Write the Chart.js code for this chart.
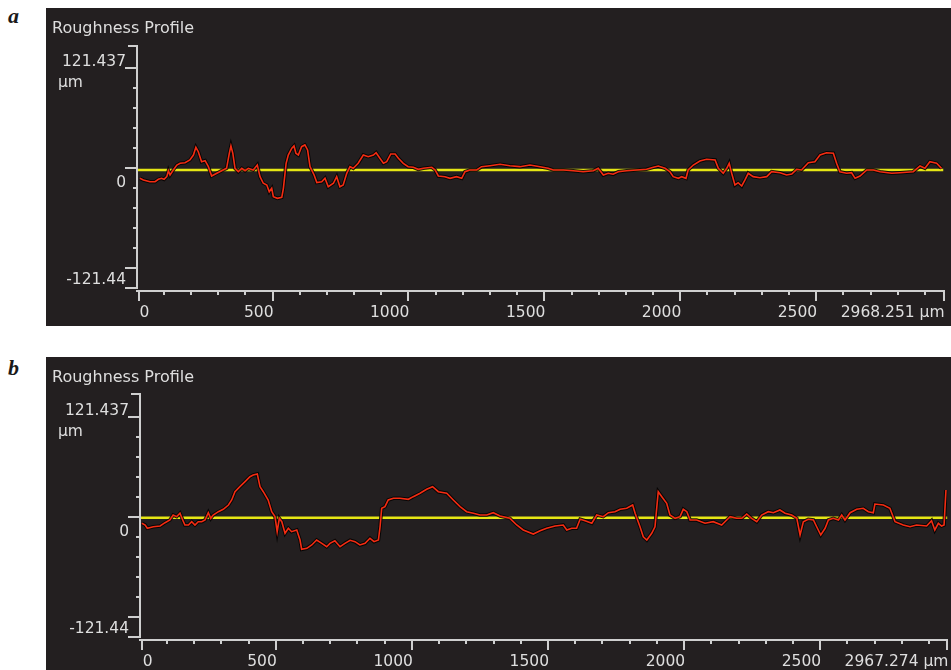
<!DOCTYPE html>
<html>
<head>
<meta charset="utf-8">
<script src="https://cdn.jsdelivr.net/npm/chart.js@4/dist/chart.umd.min.js"></script>
<style>
  html, body { margin: 0; padding: 0; background: #ffffff; width: 951px; height: 670px; overflow: hidden; }
  .panel { position: absolute; left: 46px; background: #231f20; }
  .tag { position: absolute; left: 8px; font: italic bold 22px "Liberation Serif", "DejaVu Serif", serif; line-height: 22px; color: #1a1a1a; }
</style>
</head>
<body>
<div class="tag" style="top:5px">a</div>
<canvas id="profileA" class="panel" width="905" height="318" style="top:8px"></canvas>
<div class="tag" style="top:357px">b</div>
<canvas id="profileB" class="panel" width="905" height="313" style="top:357px"></canvas>

<script>
// Evaluation length of each trace (µm) and the label printed at its end
const lengthA = 2968.251;
const lengthB = 2967.274;
const endLabelA = '2968.251 µm';
const endLabelB = '2967.274 µm';

// Axis ticks
const xMajorTicks = [0, 500, 1000, 1500, 2000, 2500];
const xMinorStep = 100;
const yTickValues = [121.437, 0, -121.44];
const yTickLabels = ['121.437', '0', '-121.44'];
const yMinorDivisions = 5;
const yUnit = 'µm';
const titleText = 'Roughness Profile';

// Mean line of each profile (µm)
const meanA = -2.4;
const meanB = -1.0;

// Profile a: position along the trace (µm) and height (µm)
const profileAx = [12,25,49,68,80,92,101,111,117,123,135,148,160,178,196,209,218,227,239,252,264,276,295,313,331,341,347,354,362,374,387,399,411,429,444,454,466,479,488,497,503,518,534,540,550,558,571,579,586,595,607,619,629,638,653,663,681,693,705,724,736,748,760,773,785,797,815,834,852,871,881,895,908,920,935,951,963,981,999,1018,1036,1055,1086,1098,1110,1134,1153,1177,1196,1208,1226,1251,1269,1300,1337,1373,1410,1447,1484,1514,1533,1570,1606,1643,1680,1698,1717,1735,1753,1772,1803,1840,1876,1901,1919,1944,1962,1974,1993,2005,2021,2029,2048,2072,2097,2128,2140,2158,2171,2180,2189,2201,2213,2226,2238,2250,2268,2293,2318,2336,2367,2391,2410,2428,2446,2471,2495,2514,2538,2563,2575,2587,2612,2630,2643,2661,2686,2710,2735,2778,2808,2857,2882,2900,2918,2943,2961];
const profileAy = [-12.5,-14.5,-16.6,-16.6,-13.7,-12.5,-13.7,-10.5,-3.3,-8.5,-2.4,3.6,5.7,6.4,9.7,15.7,25.1,19.7,7.6,8.8,1.6,-9.7,-6.4,-3.3,-0.4,17.8,26.7,17.8,-0.4,-4.5,-0.4,-3.3,-0.4,-2.4,3.6,-10.5,-18.5,-20.6,-28.7,-24.6,-34.8,-36.7,-35.5,-24.6,5.7,15.7,23.9,26.7,17.8,15.7,25.8,27.9,21.8,1.6,-8.5,-17.6,-16.6,-12.5,-22.7,-18.5,-10.5,-22.7,-20.6,-6.4,1.6,-0.4,5.7,15.7,13.7,15.7,18.5,11.8,5.7,7.6,17,17,11.8,5.7,1.6,0.8,-1.6,-0.4,0.8,-2.4,-9.7,-10.5,-12.5,-10.5,-12.5,-4.5,-2.4,-2.4,1.6,2.8,4.5,2.8,1.6,3.6,1.6,-0.4,-2.4,-2.4,-3.3,-4.5,-3.3,-0.4,-8.5,-6.4,-7.6,-4.5,-3.3,-2.4,-1.6,0.8,2.4,-0.4,-4.5,-10.5,-12.5,-10.5,-12.5,-2.4,3.6,8.5,10.5,9.7,-0.4,-6.4,-0.4,5.7,-6.4,-20.6,-17.8,-21.8,-14.5,-6.4,-10.5,-11.8,-10.5,-4.5,-5.7,-8.5,-7.3,-1.6,-2.4,6.4,7.6,15.7,18.5,17.8,5.7,-4.5,-6.4,-5.7,-12.5,-9.7,-2.4,-2.4,-4.5,-6.4,-5.7,-4.5,2.4,-0.4,7.6,5.7,-0.4];

// Profile b: position along the trace (µm) and height (µm)
const profileBx = [8,20,28,50,75,93,111,123,136,148,158,166,179,191,203,215,228,240,252,261,270,289,307,326,338,350,368,387,405,417,432,442,454,472,485,497,505,513,522,534,546,558,577,589,595,614,632,650,669,687,699,717,736,754,773,791,809,828,846,861,877,883,889,901,913,932,956,987,1005,1030,1054,1076,1097,1128,1152,1177,1201,1226,1250,1275,1299,1324,1360,1385,1409,1446,1471,1495,1526,1556,1569,1587,1605,1618,1636,1661,1679,1703,1722,1746,1765,1789,1811,1820,1838,1850,1863,1881,1893,1905,1918,1936,1948,1967,1985,1997,2010,2022,2046,2077,2107,2138,2150,2169,2193,2212,2230,2248,2267,2285,2309,2328,2352,2371,2395,2414,2426,2438,2456,2475,2487,2502,2518,2530,2548,2567,2579,2591,2610,2634,2658,2677,2695,2701,2732,2756,2775,2805,2830,2854,2891,2909,2921,2934,2946,2955,2962];
const profileBy = [-7.6,-9.7,-13.7,-11.8,-10.9,-6.9,-3.6,2.4,0.4,4.5,-3.6,-9.7,-9.7,-5.7,-9.7,-5.7,-5.7,-3.6,5.2,-1.6,2.4,6.4,9.3,14.5,20.6,30.6,36.7,42.8,48.8,50.9,52.1,36.7,30.6,20.6,6.4,0.4,-17.8,-1.6,-5.7,-19.7,-13.7,-17.8,-15.7,-27.9,-39.1,-37.9,-33.9,-27.9,-31.9,-36,-31.9,-28.7,-36,-31.9,-28.2,-29.9,-33.9,-31.9,-25.8,-29.9,-27.9,-11.8,10.5,12.5,20.6,22.7,22.7,21.4,24.6,28.7,33.6,36.7,30.6,28.7,20.6,12.5,6.4,4.5,2.4,2.4,5.2,1.2,-1.6,-9.7,-15.7,-20.6,-16.6,-13.7,-10.9,-9.7,-15.7,-13.7,-13.7,-2.8,-4.5,-7.6,2.4,0.4,5.2,6.4,9.3,10.5,14.5,4.5,-11.8,-23.9,-27.9,-19.7,-11.8,30.6,24.6,16.6,2.4,-1.6,0.4,9.3,6.4,-3.6,-3.6,-7.6,-5.7,-9.7,-5.7,0.4,-1.6,-1.6,3.6,-1.6,-5.7,2.4,6.4,5.2,8.5,4.5,2.4,-1.6,-21.8,-5.7,-2.8,-3.6,-11.8,-21.8,-13.7,-3.6,-1.6,-3.6,2.4,-3.6,5.2,9.3,10.5,6.4,5.2,15.7,14.5,10.5,-5.7,-9.7,-11.8,-9.7,-10.9,-4.5,-15.7,-7.6,-10.9,-9.7,32.7];

function toPoints(xs, ys) {
  const n = Math.min(xs.length, ys.length);
  const pts = [];
  for (let i = 0; i < n; i++) pts.push({ x: xs[i], y: ys[i] });
  return pts;
}

// Draws the instrument-style axes: bracketed height axis, tick marks and labels
const profileAxes = {
  id: 'profileAxes',
  afterDatasetsDraw(chart, args, opts) {
    const ctx = chart.ctx;
    const xs = chart.scales.x, ys = chart.scales.y;
    const area = chart.chartArea;
    const ax = Math.round(area.left);
    const top = Math.round(area.top), bot = Math.round(area.bottom);
    ctx.save();
    ctx.strokeStyle = '#cfcfcf';
    ctx.fillStyle = '#dedede';
    ctx.lineWidth = 2;
    ctx.lineCap = 'butt';

    // title
    ctx.font = '16px "DejaVu Sans", sans-serif';
    ctx.textAlign = 'left';
    ctx.textBaseline = 'alphabetic';
    ctx.fillText(titleText, 6, 25);

    // height axis with bracket caps
    ctx.beginPath();
    ctx.moveTo(ax, top - 1); ctx.lineTo(ax, bot + 1);
    ctx.moveTo(ax - 9, top); ctx.lineTo(ax + 1, top);
    ctx.moveTo(ax - 12, bot); ctx.lineTo(ax + 1, bot);
    ctx.stroke();

    // height ticks
    const step = yTickValues[0] / yMinorDivisions;
    ctx.beginPath();
    for (let k = -yMinorDivisions + 1; k < yMinorDivisions; k++) {
      if (k === 0) continue;
      const py = Math.round(ys.getPixelForValue(k * step));
      ctx.moveTo(ax - 4, py); ctx.lineTo(ax, py);
    }
    yTickValues.forEach(v => {
      const py = Math.round(ys.getPixelForValue(v));
      ctx.moveTo(ax - 12, py); ctx.lineTo(ax, py);
    });
    ctx.stroke();

    ctx.font = '15.5px "DejaVu Sans", sans-serif';
    ctx.textAlign = 'right';
    const labelShift = [-2, 19, 16];
    yTickValues.forEach((v, i) => {
      const py = ys.getPixelForValue(v);
      ctx.fillText(yTickLabels[i], ax - 11, py + labelShift[i]);
    });
    ctx.textAlign = 'left';
    ctx.fillText(yUnit, 12, ys.getPixelForValue(yTickValues[0]) + 19);

    // length axis
    const xl = bot + 3;
    const xEnd = xs.getPixelForValue(opts.length);
    ctx.beginPath();
    ctx.moveTo(ax - 1, xl); ctx.lineTo(Math.round(xEnd) + 1, xl);
    for (let v = xMinorStep; v < opts.length; v += xMinorStep) {
      if (v % 500 === 0) continue;
      const px = Math.round(xs.getPixelForValue(v));
      ctx.moveTo(px, xl); ctx.lineTo(px, xl + 4);
    }
    xMajorTicks.forEach(v => {
      const px = Math.round(xs.getPixelForValue(v)) + (v === 0 ? 2 : 0);
      ctx.moveTo(px, xl); ctx.lineTo(px, xl + 10);
    });
    ctx.moveTo(Math.round(xEnd), xl); ctx.lineTo(Math.round(xEnd), xl + 10);
    ctx.stroke();

    const base = xl + 26;
    xMajorTicks.forEach(v => {
      const px = xs.getPixelForValue(v);
      if (v === 0) {
        ctx.textAlign = 'left';
        ctx.fillText(String(v), px + 3, base);
      } else {
        ctx.textAlign = 'right';
        ctx.fillText(String(v), px + 1, base);
      }
    });
    ctx.textAlign = 'right';
    ctx.fillText(opts.endLabel, xEnd + 1, base);
    ctx.restore();
  }
};

function makeProfile(id, xs, ys, mean, length, endLabel, pad, yMin, yMax) {
  const pts = toPoints(xs, ys);
  return new Chart(document.getElementById(id), {
    type: 'line',
    data: {
      datasets: [
        { data: pts, borderColor: '#f42c12', borderWidth: 1.6, pointRadius: 0, tension: 0, order: 0 },
        { data: pts, borderColor: 'rgba(0,0,0,0.85)', borderWidth: 3.6, pointRadius: 0, tension: 0, order: 1 },
        { data: [{ x: 0, y: mean }, { x: length, y: mean }], borderColor: '#e6e614', borderWidth: 2.4, pointRadius: 0, order: 2 }
      ]
    },
    options: {
      responsive: false,
      animation: false,
      events: [],
      layout: { padding: pad },
      scales: {
        x: { type: 'linear', display: false, min: 0, max: length },
        y: { type: 'linear', display: false, min: yMin, max: yMax }
      },
      plugins: {
        legend: { display: false },
        tooltip: { enabled: false },
        profileAxes: { length: length, endLabel: endLabel }
      }
    },
    plugins: [profileAxes]
  });
}

makeProfile('profileA', profileAx, profileAy, meanA, lengthA, endLabelA,
  { left: 90.6, right: 7.5, top: 38, bottom: 38 }, -145.3, 147.7);
makeProfile('profileB', profileBx, profileBy, meanB, lengthB, endLabelB,
  { left: 93.7, right: 3.6, top: 37, bottom: 33 }, -145.3, 148.9);
</script>
</body>
</html>
